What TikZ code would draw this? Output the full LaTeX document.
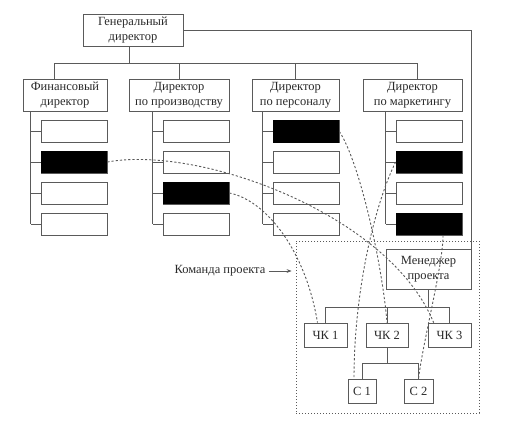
\documentclass[tikz,border=0pt]{standalone}
\usepackage{fontspec}
\setmainfont{Liberation Serif}
\usepackage{tikz}
\usepackage{xcolor}
\definecolor{linegray}{HTML}{5A5A5A}
\definecolor{textdark}{HTML}{2A2A2A}
\usetikzlibrary{arrows.meta, positioning, calc}

\begin{document}
\begin{tikzpicture}[
        x=1pt, y=-1pt,
        font=\fontsize{12.5}{15}\selectfont,
        org_node/.style={
            rectangle,
            draw=linegray,
            line width=0.7pt,
            fill=white,
            text=textdark,
            align=center,
            inner sep=0pt,
            minimum height=32pt
        },
        small_node/.style={
            org_node,
            minimum height=24pt
        },
        sub_node/.style={
            rectangle,
            draw=linegray,
            line width=0.7pt,
            fill=white,
            minimum width=66pt,
            minimum height=22pt,
            anchor=east
        },
        team_box/.style={
            rectangle,
            draw=linegray,
            line width=0.8pt,
            dash pattern=on 1.2pt off 1.8pt,
            minimum width=183pt,
            minimum height=172pt
        },
        link/.style={
            draw=linegray,
            line width=0.7pt
        },
        dash_link/.style={
            draw=linegray,
            line width=0.9pt,
            dash pattern=on 2.2pt off 2pt
        }
    ]
    \useasboundingbox (0,0) rectangle (505,421);

    % General director (Top)
    \node[org_node, minimum width=100pt] (gen) at (133,30) {Генеральный\\директор};

    % Directors
    \node[org_node, minimum width=84pt] (fin) at (65,95) {Финансовый\\директор};
    \node[org_node, minimum width=100pt] (prod) at (179,95) {Директор\\по производству};
    \node[org_node, minimum width=87pt] (pers) at (295.5,95) {Директор\\по персоналу};
    \node[org_node, minimum width=99pt] (mark) at (412.5,95) {Директор\\по маркетингу};

    \draw[link] ([xshift=-4pt]gen.south) -- ++(0,17) coordinate (top_bus);
    \draw[link] ([xshift=-11pt]fin.north) |- (top_bus) -| ([xshift=5pt]mark.north);
    \foreach \col in {prod,pers}
        \draw[link] (\col.north) -- (\col.north |- top_bus);

    % Departments under each director
    \foreach \r/\yy in {1/131.5,2/162,3/193,4/224}
        \coordinate (row\r) at (0,\yy);
    \foreach \col in {fin,prod,pers,mark} {
        \foreach \r in {1,...,4} {
            \node[sub_node] (\col\r) at (\col.east |- row\r) {};
            \draw[link] (\col\r.west) -- ++(-10,0);
        }
        \draw[link] (\col4.west) ++(-10,0) coordinate (\col-v) -- (\col-v |- \col.south);
    }
    \foreach \n in {fin2,prod3,pers1,mark2,mark4}
        \fill[black] (\n.north west) rectangle (\n.south east);

    % Project team (Bottom right)
    \node[team_box] (team) at (387.5,327) {};
    \node[text=textdark] (team_label) at (220,271) {Команда проекта};
    \draw[link, -{Stealth[length=5pt]}, shorten >=4pt] (team_label.east) -- (team_label -| team.west);

    \node[org_node, minimum width=85pt, minimum height=40pt] (mgr) at (428.5,269) {Менеджер\\проекта};
    \draw[link] (gen.east) -| (mgr.north east);

    \node[small_node, minimum width=43pt] (ck1) at (325.5,335) {ЧК 1};
    \node[small_node, minimum width=42pt] (ck2) at (387,335) {ЧК 2};
    \node[small_node, minimum width=43pt] (ck3) at (449.5,335) {ЧК 3};
    \node[small_node, minimum width=28pt] (c1) at (362,391) {С 1};
    \node[small_node, minimum width=29pt] (c2) at (418.5,391) {С 2};

    \draw[link] (mgr.south) -- ++(0,18) coordinate (team_bus);
    \draw[link] (ck1.north) |- (team_bus) -| (ck3.north);
    \draw[link] (ck2.north) -- (ck2.north |- team_bus);
    \draw[link] (ck2.south) -- ++(0,16) coordinate (sub_bus);
    \draw[link] (c1.north) |- (sub_bus) -| (c2.north);

    % Assignments to the team
    \draw[dash_link] (fin2.east) .. controls +(93,-17) and +(-44,-108) .. ([xshift=6pt]ck3.north west);
    \draw[dash_link] (prod3.east) .. controls +(36,7) and +(-12,-73) .. ([xshift=-8pt]ck1.north);
    \draw[dash_link] (pers1.east) .. controls +(20,30) and +(-5,-60) .. (ck2.north);
    \draw[dash_link] (mark2.west) .. controls +(-20,40) and +(0,-90) .. ([xshift=-8pt]c1.north);
    \draw[dash_link] ([xshift=14pt]mark4.south) .. controls +(0,30) and +(5,-40) .. (c2.north);

\end{tikzpicture}
\end{document}
